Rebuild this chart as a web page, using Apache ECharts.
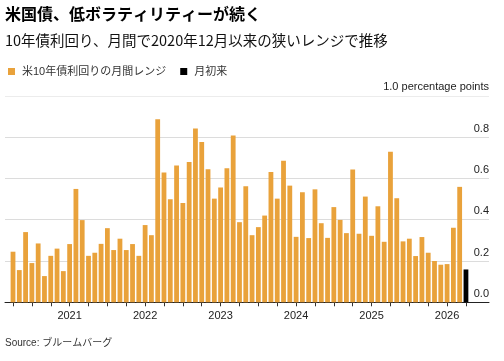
<!DOCTYPE html>
<html>
<head>
<meta charset="utf-8">
<script src="https://cdn.jsdelivr.net/npm/echarts@6/dist/echarts.min.js"></script>
<style>
html,body{margin:0;padding:0;background:#fff;}
#c{width:504px;height:361px;}
</style>
</head>
<body>
<div id="c"></div>
<script>
const months = [
 '2020-04','2020-05','2020-06','2020-07','2020-08','2020-09','2020-10','2020-11','2020-12',
 '2021-01','2021-02','2021-03','2021-04','2021-05','2021-06','2021-07','2021-08','2021-09','2021-10','2021-11','2021-12',
 '2022-01','2022-02','2022-03','2022-04','2022-05','2022-06','2022-07','2022-08','2022-09','2022-10','2022-11','2022-12',
 '2023-01','2023-02','2023-03','2023-04','2023-05','2023-06','2023-07','2023-08','2023-09','2023-10','2023-11','2023-12',
 '2024-01','2024-02','2024-03','2024-04','2024-05','2024-06','2024-07','2024-08','2024-09','2024-10','2024-11','2024-12',
 '2025-01','2025-02','2025-03','2025-04','2025-05','2025-06','2025-07','2025-08','2025-09','2025-10','2025-11','2025-12',
 '2026-01','2026-02','2026-03','2026-04'
];
const monthlyRange = [
 0.245,0.156,0.34,0.19,0.285,0.127,0.225,0.26,0.151,
 0.282,0.549,0.398,0.225,0.24,0.283,0.359,0.253,0.308,0.253,0.282,0.225,
 0.374,0.325,0.886,0.628,0.499,0.663,0.481,0.68,0.842,0.776,0.644,0.502,
 0.556,0.649,0.808,0.388,0.562,0.325,0.364,0.42,0.631,0.502,0.686,0.565,
 0.317,0.533,0.311,0.547,0.383,0.312,0.461,0.399,0.335,0.643,0.332,0.512,
 0.322,0.465,0.293,0.729,0.504,0.295,0.308,0.224,0.316,0.24,0.2,0.182,
 0.185,0.361,0.559
];
const monthToDate = [0.159];
const yTicks = [0, 0.2, 0.4, 0.6, 0.8, 1.0];

const nOrange = monthlyRange.length;
const orangeData = months.map((m, i) => i < nOrange ? monthlyRange[i] : null);
const blackData = months.map((m, i) => i >= nOrange ? monthToDate[i - nOrange] : null);

const FONT = "'Liberation Sans', 'Noto Sans CJK JP', sans-serif";
const chart = echarts.init(document.getElementById('c'), null, {renderer: 'canvas'});
const gridTop = 95.8, gridBottom = 58.7;
chart.setOption({
  animation: false,
  textStyle: {fontFamily: FONT},
  grid: [
    {left: 9.86, right: 34.9, top: gridTop, bottom: gridBottom},
    {left: 5, right: 15, top: gridTop, bottom: gridBottom}
  ],
  legend: {
    left: 3, top: 61, itemWidth: 7, itemHeight: 7, itemGap: 14,
    icon: 'rect',
    itemStyle: {borderWidth: 0},
    textStyle: {fontSize: 11, color: '#333', fontFamily: FONT, padding: [0, 0, 0, 2]},
    data: ['米10年債利回りの月間レンジ', '月初来']
  },
  xAxis: [
    {
      type: 'category', gridIndex: 0, data: months,
      axisLine: {show: false},
      axisTick: {show: true, alignWithLabel: true, length: 4,
        interval: (i) => i % 3 === 0, lineStyle: {color: '#333'}},
      axisLabel: {interval: (i) => i % 12 === 9, formatter: (v) => v.slice(0, 4),
        fontSize: 11, color: '#222', margin: 8},
      splitLine: {show: false}
    },
    {
      type: 'value', gridIndex: 1, min: 0, max: 1,
      axisLine: {show: true, lineStyle: {color: '#222', width: 1}},
      axisTick: {show: false}, axisLabel: {show: false}, splitLine: {show: false}
    }
  ],
  yAxis: [
    {type: 'value', gridIndex: 0, min: yTicks[0], max: yTicks[yTicks.length - 1], show: false},
    {
      type: 'value', gridIndex: 1, position: 'right',
      min: yTicks[0], max: yTicks[yTicks.length - 1], interval: 0.2,
      axisLine: {show: false}, axisTick: {show: false},
      splitLine: {show: true, lineStyle: {color: ['#ffffff', '#dcdcdc', '#dcdcdc', '#dcdcdc', '#dcdcdc', '#ececec'], width: 1}},
      axisLabel: {
        inside: true, margin: 0, align: 'right', verticalAlign: 'bottom',
        padding: [0, 0, 3, 0], fontSize: 11, color: '#222',
        formatter: (v) => Math.abs(v - 1) < 1e-9 ? '1.0 percentage points' : v.toFixed(1)
      }
    }
  ],
  series: [
    {
      name: '米10年債利回りの月間レンジ', type: 'bar', xAxisIndex: 0, yAxisIndex: 0,
      data: orangeData, barWidth: 4.8, barGap: '-100%',
      itemStyle: {color: '#E9A23B'}
    },
    {
      name: '月初来', type: 'bar', xAxisIndex: 0, yAxisIndex: 0,
      data: blackData, barWidth: 4.8, barGap: '-100%',
      itemStyle: {color: '#000000'}
    }
  ],
  graphic: [
    {type: 'text', left: 5, top: 6, style: {text: '米国債、低ボラティリティーが続く',
      font: "bold 16px 'Noto Sans CJK JP', sans-serif", fill: '#000'}},
    {type: 'text', left: 5, top: 33, style: {text: '10年債利回り、月間で2020年12月以来の狭いレンジで推移',
      font: "14.5px 'Noto Sans CJK JP', sans-serif", fill: '#111'}},
    {type: 'text', left: 5, top: 338, style: {text: 'Source: ブルームバーグ',
      font: "10px 'Liberation Sans', 'Noto Sans CJK JP', sans-serif", fill: '#333'}}
  ]
});
</script>
</body>
</html>
